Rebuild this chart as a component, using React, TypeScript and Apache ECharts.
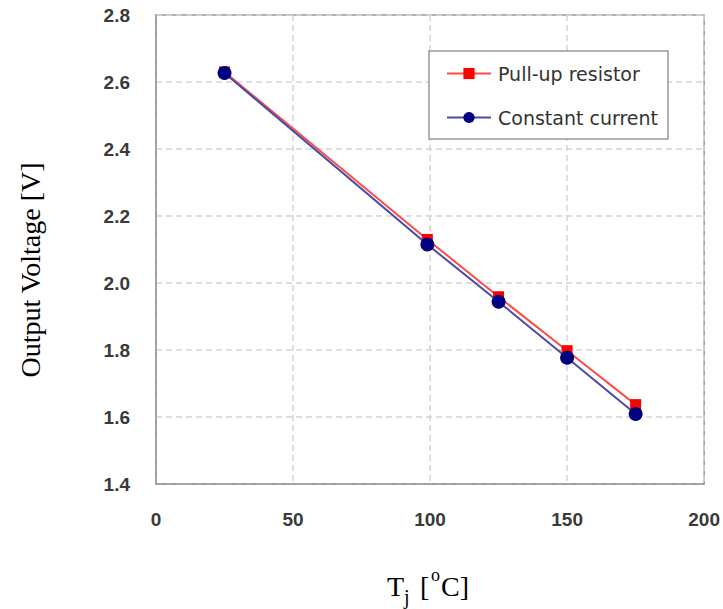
import React, { useEffect, useRef } from "react";
import * as echarts from "echarts";

const temperatures = [25, 99, 125, 150, 175];
const pullUpResistor = [2.63, 2.13, 1.959, 1.798, 1.637];
const constantCurrent = [2.627, 2.115, 1.944, 1.777, 1.609];
const seriesNames = ["Pull-up resistor", "Constant current"];
const yTitle = "Output Voltage [V]";

export default function App() {
  const ref = useRef<HTMLDivElement>(null);
  useEffect(() => {
    if (!ref.current) return;
    const chart = echarts.init(ref.current, null, { renderer: "svg" });
    const serif = "'Liberation Serif', 'Times New Roman', serif";
    const tickFont = { fontFamily: "'Liberation Sans', Arial, sans-serif", fontSize: 19, fontWeight: "bold", color: "#3a3a3a" };
    chart.setOption({
      animation: false,
      backgroundColor: "#ffffff",
      grid: { left: 156, right: 14, top: 15, bottom: 125, show: true, borderColor: "#999", borderWidth: 1.5, backgroundColor: "transparent" },
      xAxis: {
        type: "value", min: 0, max: 200, interval: 50,
        axisLine: { show: true, lineStyle: { color: "#999", width: 1.5 } },
        axisTick: { show: false },
        axisLabel: { ...tickFont, margin: 26 },
        splitLine: { show: true, lineStyle: { color: "#d4d4d4", width: 1.5, type: [6, 4] } },
      },
      yAxis: {
        type: "value", min: 1.4, max: 2.8, interval: 0.2,
        axisLine: { show: true, lineStyle: { color: "#999", width: 1.5 } },
        axisTick: { show: false },
        axisLabel: { ...tickFont, margin: 26, formatter: (v: number) => v.toFixed(1) },
        splitLine: { show: true, lineStyle: { color: "#d4d4d4", width: 1.5, type: [6, 4] } },
      },
      legend: {
        left: 429, top: 51, orient: "vertical",
        data: seriesNames,
        backgroundColor: "#fff",
        borderColor: "#999", borderWidth: 1.5,
        padding: [13, 10, 12, 17],
        itemWidth: 44, itemHeight: 14, itemGap: 25,
        textStyle: { fontFamily: "'DejaVu Sans', sans-serif", fontSize: 19, color: "#333", padding: [0, 0, 0, 2] },
      },
      series: [
        {
          name: seriesNames[0], type: "line",
          data: temperatures.map((t, i) => [t, pullUpResistor[i]]),
          symbol: "rect", symbolSize: 11,
          itemStyle: { color: "#ff0000" },
          lineStyle: { color: "#ff4a4a", width: 2 },
          z: 2,
        },
        {
          name: seriesNames[1], type: "line",
          data: temperatures.map((t, i) => [t, constantCurrent[i]]),
          symbol: "circle", symbolSize: 14,
          itemStyle: { color: "#000080" },
          lineStyle: { color: "#4a4aa8", width: 2 },
          z: 3,
        },
      ],
      graphic: [
        {
          type: "text", x: 30, y: 270, rotation: Math.PI / 2,
          style: { text: yTitle, font: `28px ${serif}`, fill: "#000", align: "center", verticalAlign: "middle" },
        },
        { type: "text", x: 387, y: 572, style: { text: "T", font: `28px ${serif}`, fill: "#000", verticalAlign: "top" } },
        { type: "text", x: 404, y: 587, style: { text: "j", font: `20px ${serif}`, fill: "#000", verticalAlign: "top" } },
        { type: "text", x: 420, y: 572, style: { text: "[", font: `28px ${serif}`, fill: "#000", verticalAlign: "top" } },
        { type: "text", x: 431, y: 566, style: { text: "o", font: `18px ${serif}`, fill: "#000", verticalAlign: "top" } },
        { type: "text", x: 441, y: 572, style: { text: "C]", font: `28px ${serif}`, fill: "#000", verticalAlign: "top" } },
      ],
    });
    return () => chart.dispose();
  }, []);
  return <div ref={ref} style={{ position: "absolute", left: 0, top: 0, width: 723, height: 609 }} />;
}
